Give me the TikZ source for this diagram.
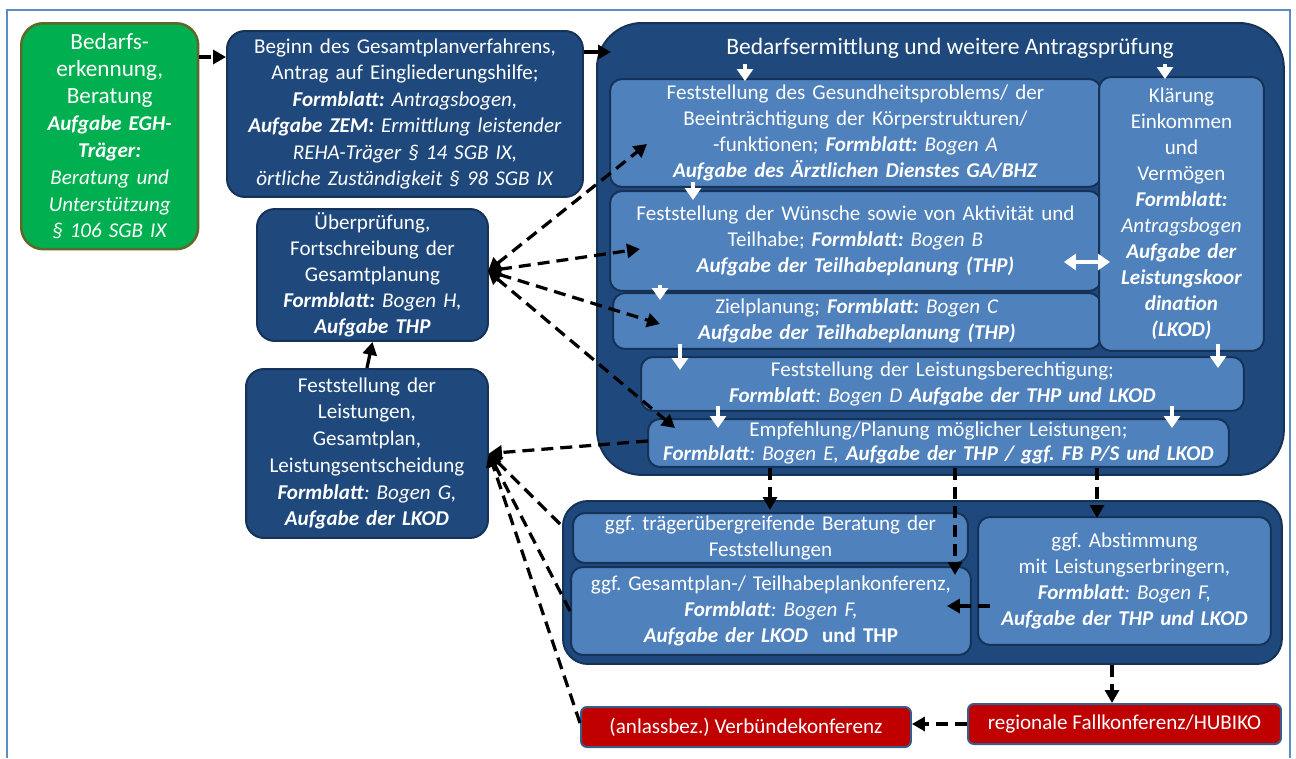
\documentclass[tikz,border=0pt]{standalone}
\usepackage{fontspec}
\setmainfont{Carlito}
\usepackage{tikz}
\usetikzlibrary{arrows.meta}
\frenchspacing
\definecolor{darkblue}{RGB}{31,73,125}
\definecolor{lightblue}{RGB}{79,129,189}
\definecolor{navyline}{RGB}{22,50,86}
\definecolor{egreen}{RGB}{0,176,80}
\definecolor{egreenline}{RGB}{94,104,40}
\definecolor{ered}{RGB}{192,0,0}
\definecolor{redline}{RGB}{56,93,138}
\definecolor{framecol}{RGB}{91,140,200}
\newcommand{\bfit}[1]{\textbf{\textit{#1}}}
\tikzstyle{darkbox} = [rectangle, rounded corners=0.36cm, anchor=north west, inner sep=0pt, align=center, text=white, draw=navyline, fill=darkblue, line width=0.4mm]
\tikzstyle{lightbox} = [rectangle, rounded corners=0.24cm, anchor=north west, inner sep=0pt, align=center, text=white, draw=navyline, fill=lightblue, line width=0.4mm]
\tikzstyle{greenbox} = [rectangle, rounded corners=0.44cm, anchor=north west, inner sep=0pt, align=center, text=white, draw=egreenline, fill=egreen, line width=0.5mm]
\tikzstyle{redbox} = [rectangle, rounded corners=0.12cm, anchor=north west, inner sep=0pt, align=center, text=white, draw=redline, fill=ered, line width=0.4mm]
\tikzstyle{whitearrow} = [white, line width=0.9mm, -{Triangle[length=2.4mm, width=3.2mm]}]
\tikzstyle{solidarrow} = [black, line width=0.65mm, -{Triangle[length=2.6mm, width=2.8mm]}]
\tikzstyle{dasharrow} = [solidarrow, dash pattern=on 2.4mm off 1.4mm]
\tikzstyle{dashboth} = [dasharrow, {Triangle[length=2.6mm, width=2.8mm]}-{Triangle[length=2.6mm, width=2.8mm]}]

\begin{document}
\begin{tikzpicture}[x=0.02cm, y=-0.02cm, font=\fontsize{12}{14.8}\selectfont]
		
		\useasboundingbox (0,0) rectangle (1296,758);
		\draw [framecol, line width=0.4mm] (7,758) -- (7,10) -- (1290,10) -- (1290,758);
		
		\node (gruen) [greenbox, minimum width=3.54cm, minimum height=4.52cm, text width=3.3cm] at (20,22) {\fontsize{13.2}{15.4}\selectfont Bedarfs-\\erkennung,\\Beratung\\\fontsize{12}{15.4}\selectfont\bfit{Aufgabe EGH-}\\\bfit{Träger:}\\\textit{Beratung und}\\\textit{Unterstützung}\\\textit{§ 106 SGB IX}};
		
		\node (beginn) [darkbox, minimum width=7.12cm, minimum height=3.32cm, text width=6.9cm, font=\fontsize{12}{15}\selectfont] at (226,30) {Beginn des Gesamtplanverfahrens,\\Antrag auf Eingliederungshilfe;\\\bfit{Formblatt:} \textit{Antragsbogen,}\\\bfit{Aufgabe ZEM:} \textit{Ermittlung leistender}\\\textit{REHA-Träger § 14 SGB IX,}\\\textit{örtliche Zuständigkeit § 98 SGB IX}};
		
		\node (hbox) [darkbox, minimum width=4.62cm, minimum height=2.64cm, text width=4.4cm] at (256,208) {Überprüfung,\\Fortschreibung der\\Gesamtplanung\\\bfit{Formblatt:} \textit{Bogen H,}\\\bfit{Aufgabe THP}};
		
		\node (gbox) [darkbox, minimum width=4.84cm, minimum height=3.38cm, text width=4.6cm, font=\fontsize{12}{15.2}\selectfont] at (245,368) {Feststellung der\\Leistungen,\\Gesamtplan,\\Leistungsentscheidung\\\bfit{Formblatt}\textit{: Bogen G,}\\\bfit{Aufgabe der LKOD}};
		
		% Bedarfsermittlung
		\node (bedarf) [darkbox, rounded corners=0.9cm, minimum width=13.74cm, minimum height=9.04cm] at (596,22) {};
		\node (titel) [text=white, font=\fontsize{13.4}{16}\selectfont] at (950,48) {Bedarfsermittlung und weitere Antragsprüfung};
		
		\node (bogenA) [lightbox, minimum width=9.82cm, minimum height=2.16cm, text width=9.6cm] at (609,78) {Feststellung des Gesundheitsproblems/ der\\Beeinträchtigung der Körperstrukturen/\\-funktionen; \bfit{Formblatt:} \textit{Bogen A}\\\bfit{Aufgabe des Ärztlichen Dienstes GA/BHZ}};
		\node (bogenB) [lightbox, minimum width=9.82cm, minimum height=2cm, text width=9.6cm] at (609,190) {Feststellung der Wünsche sowie von Aktivität und\\Teilhabe; \bfit{Formblatt:} \textit{Bogen B}\\\bfit{Aufgabe der Teilhabeplanung (THP)}};
		\node (bogenC) [lightbox, minimum width=9.76cm, minimum height=1.12cm, text width=9.6cm] at (612,292) {Zielplanung; \bfit{Formblatt:} \textit{Bogen C}\\\bfit{Aufgabe der Teilhabeplanung (THP)}};
		\node (klaerung) [lightbox, minimum width=3.3cm, minimum height=5.48cm, text width=3.1cm] at (1098,76) {Klärung\\Einkommen\\und\\Vermögen\\\bfit{Formblatt:}\\\textit{Antragsbogen}\\\bfit{Aufgabe der}\\\bfit{Leistungskoor}\\\bfit{dination}\\\bfit{(LKOD)}};
		\node (bogenD) [lightbox, minimum width=12.06cm, minimum height=1.08cm, text width=11.8cm] at (640,356) {Feststellung der Leistungsberechtigung;\\\bfit{Formblatt}\textit{: Bogen D} \bfit{Aufgabe der THP und LKOD}};
		\node (bogenE) [lightbox, minimum width=11.62cm, minimum height=0.96cm, text width=11.4cm, font=\fontsize{12}{14}\selectfont] at (647,418) {Empfehlung/Planung möglicher Leistungen;\\\bfit{Formblatt}\textit{: Bogen E,} \bfit{Aufgabe der THP / ggf. FB P/S und LKOD}};
		
		% untere Gruppe
		\node (unten) [darkbox, rounded corners=0.5cm, minimum width=14.38cm, minimum height=3.26cm] at (562,500) {};
		\node (traeger) [lightbox, minimum width=7.9cm, minimum height=1cm, text width=7.7cm] at (572,512) {ggf. trägerübergreifende Beratung der\\Feststellungen};
		\node (gesamt) [lightbox, minimum width=8cm, minimum height=1.76cm, text width=7.8cm] at (570,566) {ggf. Gesamtplan-/ Teilhabeplankonferenz,\\\bfit{Formblatt}\textit{: Bogen F,}\\\bfit{Aufgabe der LKOD}\ \ \textbf{und THP}};
		\node (abstimm) [lightbox, minimum width=5.86cm, minimum height=2.56cm, text width=5.6cm] at (977,516) {ggf. Abstimmung\\mit Leistungserbringern,\\\bfit{Formblatt}\textit{: Bogen F,}\\\bfit{Aufgabe der THP und LKOD}};
		
		\node (verbuende) [redbox, minimum width=6.6cm, minimum height=0.8cm] at (580,706) {(anlassbez.) Verbündekonferenz};
		\node (hubiko) [redbox, minimum width=6.26cm, minimum height=0.8cm] at (967,703) {regionale Fallkonferenz/HUBIKO};
		
		% weisse Pfeile
		\draw [whitearrow] (745,0 |- titel.south) -- ([yshift=-0.06cm]745,0 |- bogenA.north);
		\draw [whitearrow] (1165,0 |- titel.south) -- ([yshift=-0.06cm]1165,0 |- klaerung.north);
		\draw [whitearrow] ([yshift=0.12cm]693,0 |- bogenA.south) -- ([yshift=-0.2cm]693,0 |- bogenB.north);
		\draw [whitearrow] ([yshift=0.14cm]660,0 |- bogenB.south) -- ([yshift=-0.16cm]660,0 |- bogenC.north);
		\draw [whitearrow] ([yshift=0.12cm]680,0 |- bogenC.south) -- ([yshift=-0.28cm]680,0 |- bogenD.north);
		\draw [whitearrow] ([yshift=0.16cm]1218,0 |- klaerung.south) -- ([yshift=-0.24cm]1218,0 |- bogenD.north);
		\draw [whitearrow] ([yshift=0.12cm]718,0 |- bogenD.south) -- ([yshift=-0.2cm]718,0 |- bogenE.north);
		\draw [whitearrow] ([yshift=0.12cm]1172,0 |- bogenD.south) -- ([yshift=-0.2cm]1172,0 |- bogenE.north);
		\draw [whitearrow, {Triangle[length=2.4mm, width=3.2mm]}-{Triangle[length=2.4mm, width=3.2mm]}] ([xshift=-0.76cm]bogenB.east |- 0,262) -- ([xshift=0.24cm]klaerung.west |- 0,262);
		
		% schwarze Pfeile
		\draw [dasharrow] (gruen.east |- 0,57) -- (beginn.west |- 0,57);
		\draw [solidarrow] (beginn.east |- 0,52) -- ([xshift=0.3cm]bedarf.west |- 0,52);
		
		\coordinate (hpunkt) at ([shift={(-1,-4)}]hbox.east);
		\draw [dashboth] (hpunkt) -- ([shift={(38,11)}]bogenA.west);
		\draw [dashboth] (hpunkt) -- ([shift={(31,8)}]bogenB.west);
		\draw [dashboth] (hpunkt) -- ([shift={(48,3)}]bogenC.west);
		\draw [dashboth] (hpunkt) -- ([shift={(28,-15)}]bogenE.west);
		
		\draw [dasharrow] ([shift={(1,-2)}]bogenE.west) -- (gbox.east);
		\draw [dasharrow] ([shift={(-12,-14)}]traeger.west) -- (gbox.east);
		\draw [dasharrow] (gesamt.west) -- (gbox.east);
		\draw [dasharrow] ([shift={(0,-4)}]verbuende.west) -- (gbox.east);
		\draw [solidarrow] (gbox.north) -- (hbox.south);
		
		\draw [dasharrow] (770,0 |- bogenE.south) -- ([yshift=0.04cm]770,0 |- traeger.north);
		\draw [dasharrow] (955,0 |- bogenE.south) -- ([yshift=-0.18cm]955,0 |- gesamt.north);
		\draw [dasharrow] (1097,0 |- bogenE.south) -- ([yshift=-0.04cm]1097,0 |- abstimm.north);
		\draw [dasharrow] ([xshift=0.26cm]abstimm.west |- 0,606) -- ([xshift=-0.5cm]gesamt.east |- 0,606);
		\draw [dasharrow] (1112,0 |- unten.south) -- (1112,0 |- hubiko.north);
		\draw [dasharrow] (hubiko.west |- 0,724) -- (verbuende.east |- 0,724);
		
\end{tikzpicture}
\end{document}
